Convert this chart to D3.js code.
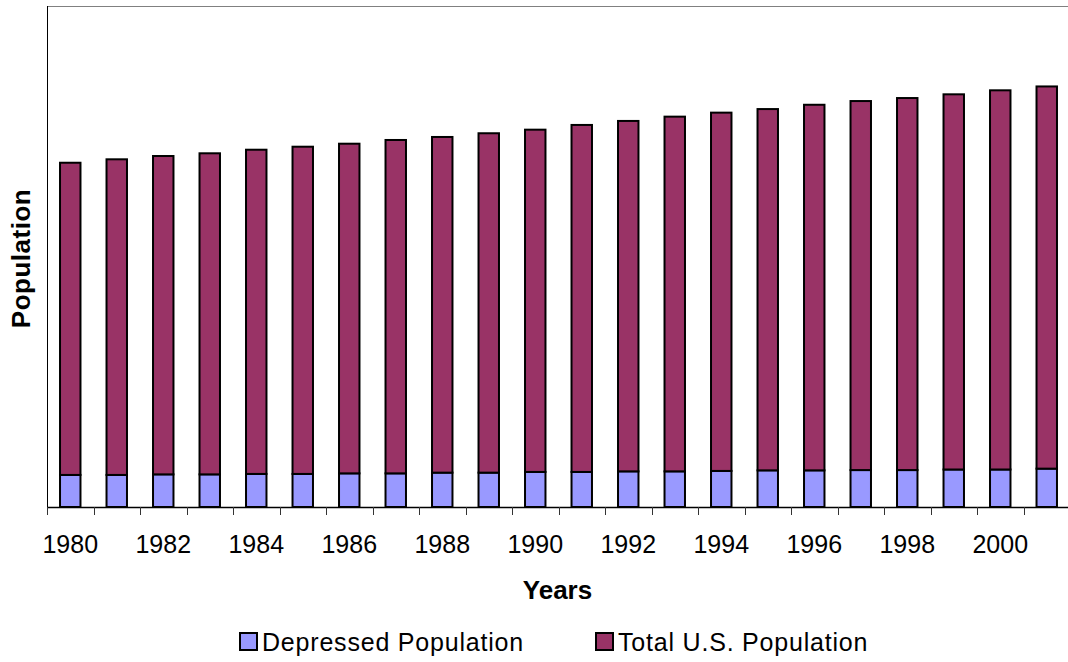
<!DOCTYPE html>
<html>
<head>
<meta charset="utf-8">
<script src="https://cdn.jsdelivr.net/npm/d3@7"></script>
<style>
  body { margin: 0; background: #fff; }
  text { font-family: Arial, "Liberation Sans", sans-serif; fill: #000; }
</style>
</head>
<body>
<svg width="1068" height="662"></svg>
<script>
const years = d3.range(1980, 2002);
const depressed = [22.4, 22.4, 22.8, 22.8, 23.1, 23.1, 23.5, 23.5, 24.0, 24.0, 24.5,
  24.5, 24.9, 24.9, 25.2, 25.6, 25.6, 25.8, 25.8, 26.2, 26.2, 26.8];
const total = [218.1, 220.5, 222.4, 224.3, 226.5, 228.6, 230.3, 232.9, 234.5, 237.1, 239.1,
  242.4, 244.8, 247.8, 250.3, 252.4, 255.4, 257.8, 259.9, 262.1, 264.9, 267.0];
const seriesNames = ["Depressed Population", "Total U.S. Population"];
const colors = ["#9999FF", "#993366"];
const tickLabels = years.filter((d) => d % 2 === 0);

const margin = { left: 47, top: 6, right: -2, bottom: 155 },
  width = 1068,
  height = 662;

const svg = d3.select("svg");

const rows = years.map((y, i) => ({ year: y, dep: depressed[i], tot: total[i] }));
const stacked = d3.stack().keys(["dep", "tot"])(rows);

const x_scale = d3.scaleBand()
  .domain(years)
  .range([margin.left, width - margin.right])
  .paddingInner(0.56)
  .paddingOuter(0.28);

const y_scale = d3.scaleLinear()
  .domain([0, 350])
  .range([height - margin.bottom, margin.top]);

// plot frame (top edge)
svg.append("line")
  .attr("x1", margin.left).attr("x2", width)
  .attr("y1", margin.top + 0.5).attr("y2", margin.top + 0.5)
  .attr("stroke", "#808080");

svg.append("line")
  .attr("x1", margin.left + 0.5).attr("x2", margin.left + 0.5)
  .attr("y1", margin.top).attr("y2", y_scale(0))
  .attr("stroke", "#000");

svg.append("g")
  .selectAll("g")
  .data(stacked)
  .join("g")
  .attr("fill", (d, i) => colors[i])
  .selectAll("rect")
  .data((d) => d)
  .join("rect")
  .attr("x", (d) => x_scale(d.data.year))
  .attr("width", x_scale.bandwidth())
  .attr("y", (d) => y_scale(d[1]))
  .attr("height", (d) => y_scale(d[0]) - y_scale(d[1]))
  .attr("stroke", "#000")
  .attr("stroke-width", 2);

// x axis: ticks on category boundaries, labels every other year
const step = x_scale.step();
const boundaries = d3.range(years.length + 1).map((i) => margin.left + i * step);
const axis = svg.append("g");
axis.append("line")
  .attr("x1", margin.left).attr("x2", width)
  .attr("y1", y_scale(0) + 0.5).attr("y2", y_scale(0) + 0.5)
  .attr("stroke", "#000").attr("stroke-width", 1.5);
axis.selectAll(".tick")
  .data(boundaries)
  .join("line")
  .attr("class", "tick")
  .attr("x1", (d) => Math.round(d) + 0.5).attr("x2", (d) => Math.round(d) + 0.5)
  .attr("y1", y_scale(0)).attr("y2", y_scale(0) + 8)
  .attr("stroke", "#333");
axis.selectAll(".lbl")
  .data(tickLabels)
  .join("text")
  .attr("class", "lbl")
  .attr("x", (d) => x_scale(d) + x_scale.bandwidth() / 2)
  .attr("y", 553)
  .attr("text-anchor", "middle")
  .style("font-size", "25px")
  .text((d) => d);

svg.append("text")
  .attr("x", (margin.left + width) / 2)
  .attr("y", 599)
  .attr("text-anchor", "middle")
  .style("font-size", "26px")
  .style("font-weight", "bold")
  .text("Years");

svg.append("text")
  .attr("transform", `translate(30, ${(margin.top + y_scale(0)) / 2 + 2}) rotate(-90)`)
  .attr("text-anchor", "middle")
  .style("font-size", "26px")
  .style("font-weight", "bold")
  .style("letter-spacing", "0.5px")
  .text("Population");

const legendX = [240, 596];
const legend = svg.append("g")
  .selectAll("g")
  .data(seriesNames)
  .join("g")
  .attr("transform", (d, i) => `translate(${legendX[i]}, 633)`);
legend.append("rect")
  .attr("width", 17).attr("height", 17)
  .attr("fill", (d, i) => colors[i])
  .attr("stroke", "#000").attr("stroke-width", 2);
legend.append("text")
  .attr("x", 22).attr("y", 17.5)
  .style("font-size", "25px")
  .style("letter-spacing", "0.8px")
  .text((d) => d);
</script>
</body>
</html>
